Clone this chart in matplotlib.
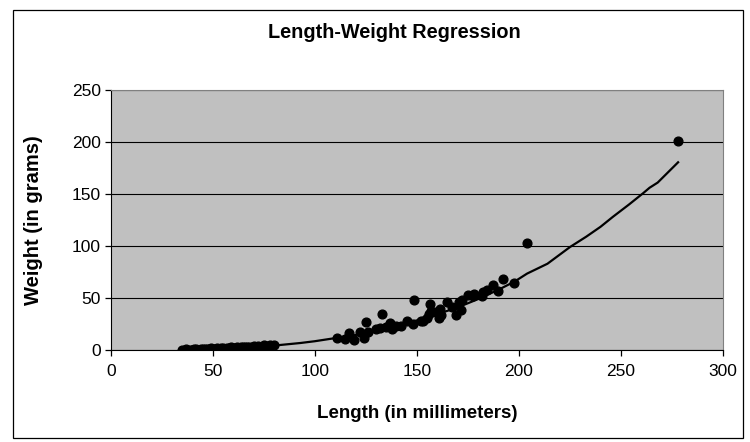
import matplotlib.pyplot as plt
from matplotlib.patches import Rectangle

plt.rcParams['font.family'] = ['Liberation Sans', 'DejaVu Sans']

# small fish, 35-80 mm
small_len = [35, 37, 39, 40, 41, 42, 43, 44, 45, 46, 47, 48, 49, 50, 51, 52, 53, 54, 55, 56,
             57, 58, 59, 60, 61, 62, 63, 64, 65, 66, 67, 68, 69, 70, 72, 73, 75, 76, 78, 80]
small_wt = [0.5, 0.9, 0.5, 0.3, 0.7, 1.0, 0.4, 1.3, 0.9, 0.6, 1.4, 1.0, 1.7, 1.2, 0.9, 1.8, 1.3, 2.1, 1.6, 1.2,
            2.3, 1.9, 2.6, 2.1, 1.8, 2.7, 2.3, 3.0, 2.6, 3.2, 2.8, 3.4, 3.0, 3.6, 3.9, 3.4, 4.4, 4.0, 4.7, 5.0]

# larger fish
big_len = [111, 115, 117, 119, 122, 124, 125, 126, 130, 132, 133, 135, 137, 138, 140, 142, 145, 148,
           148.5, 152, 153, 155, 156, 156.5, 157, 159.5, 161, 161.5, 162, 165, 167, 169, 170.5, 171.5,
           172, 175, 177.5, 178, 182, 182.5, 184.5, 187.5, 190, 192, 197.5, 204, 278]
big_wt = [12, 11, 16, 9.5, 17.5, 12, 27, 17.5, 20, 21, 35, 22, 26, 20, 23.5, 23, 28, 25.5,
          48, 28, 27.5, 30.5, 35, 44.5, 38, 37, 30.5, 39, 33.5, 46.5, 41.5, 33.5, 46.5, 38.5,
          48, 53, 51.5, 54, 51.5, 56, 58, 62.5, 57, 68.5, 64.5, 103, 201]

# regression line
fit_len = [35, 45, 55, 65, 75, 80, 93, 100, 110, 120, 130, 140, 150, 160, 170, 180, 190, 198,
           204, 214, 225, 233, 240, 246, 254, 261, 264, 268, 278]
fit_wt = [0.4, 0.8, 1.4, 2.3, 3.5, 4.3, 6.8, 8.5, 11.5, 14.5, 18.5, 23, 28.5, 34.5, 41, 49, 58, 66,
          73.5, 83, 99, 109, 118.5, 128, 140, 151, 156, 161, 180.5]

fig = plt.figure(figsize=(7.5, 4.42), dpi=100)
fig.patches.append(Rectangle((13 / 750, 1 - 438 / 442), 730 / 750, 428 / 442,
                             transform=fig.transFigure, fill=False, edgecolor='black', lw=0.9))

ax = fig.add_axes([0.1476, 0.208, 0.8164, 0.5884])
ax.set_facecolor('#c0c0c0')
ax.set_axisbelow(True)
ax.yaxis.grid(True, color='black', lw=0.8)

ax.plot(small_len + big_len, small_wt + big_wt, 'o', color='black', markersize=6.3, zorder=3)
ax.plot(fit_len, fit_wt, '-', color='black', lw=1.6, zorder=3)

ax.set_xlim(0, 300)
ax.set_ylim(0, 250)
ax.set_xticks(range(0, 301, 50))
ax.set_yticks(range(0, 251, 50))
ax.tick_params(direction='out', length=4, width=0.9, labelsize=12.5, pad=3)
ax.tick_params(axis='x', pad=6)

for s in ['top', 'right']:
    ax.spines[s].set_color('#808080')
for s in ['left', 'bottom']:
    ax.spines[s].set_color('black')

ax.set_ylabel('Weight (in grams)', fontsize=14.5, fontweight='bold')
ax.yaxis.set_label_coords(-0.11, 0.5)
ax.set_xlabel('Length (in millimeters)', fontsize=13.5, fontweight='bold')
ax.xaxis.set_label_coords(0.5, -0.21)

fig.text(394 / 750, 1 - 32 / 442, 'Length-Weight Regression', ha='center', va='center',
         fontsize=14.3, fontweight='bold')

fig.savefig('out.png', dpi=100)
